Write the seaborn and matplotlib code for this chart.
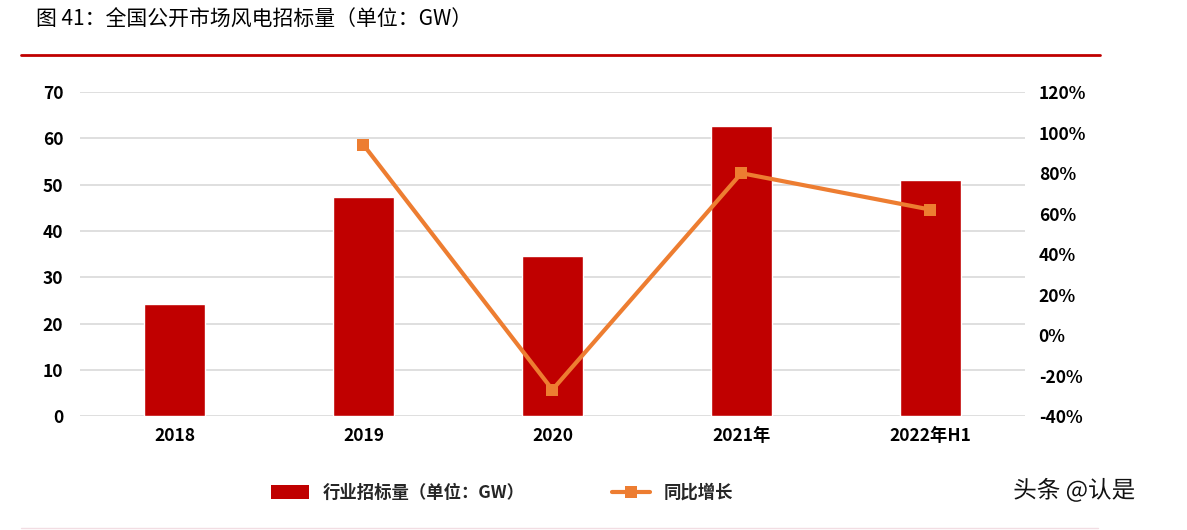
import matplotlib
matplotlib.use("Agg")
import matplotlib.pyplot as plt
import matplotlib.patheffects as pe
from matplotlib.lines import Line2D
from matplotlib.patches import Patch
from matplotlib.ticker import FuncFormatter
import seaborn as sns
import pandas as pd

# data
years = ["2018", "2019", "2020", "2021年", "2022年H1"]
bids_gw = [24.3, 47.3, 34.7, 62.7, 51.1]
yoy_pct = [None, 94, -27, 80, 62]

sns.set_theme(style="white")
plt.rcParams["font.family"] = ["Noto Sans CJK SC", "DejaVu Sans"]

df = pd.DataFrame({"year": years, "bids": bids_gw, "yoy": yoy_pct})

fig = plt.figure(figsize=(11.87, 5.3), dpi=100)
ax = fig.add_axes([0.0674, 0.215, 0.796, 0.611])

bar_red = "#C00000"
line_orange = "#ED7D31"

sns.barplot(data=df, x="year", y="bids", color=bar_red, width=0.32,
            saturation=1, ax=ax, zorder=3)
ax.set_ylim(0, 70)
ax.set_yticks(range(0, 71, 10))
ax.set_xlim(-0.5, 4.5)
ax.grid(axis="y", color="#d9d9d9", linewidth=1.2, zorder=0)
ax.set_xlabel("")
ax.set_ylabel("")
for s in ax.spines.values():
    s.set_visible(False)
ax.tick_params(axis="both", length=0, labelsize=12.5, colors="#000000")
ax.tick_params(axis="y", pad=12)
ax.tick_params(axis="x", pad=8)
for lab in ax.get_xticklabels() + ax.get_yticklabels():
    lab.set_fontweight("bold")

ax2 = ax.twinx()
line_df = df.dropna(subset=["yoy"])
sns.lineplot(x=line_df.index, y=line_df["yoy"], color=line_orange, linewidth=3,
             marker="s", markersize=8, markeredgewidth=0, ax=ax2, zorder=4)
ax2.set_ylim(-40, 120)
ax2.set_yticks(range(-40, 121, 20))
ax2.yaxis.set_major_formatter(FuncFormatter(lambda v, p: f"{int(v)}%"))
ax2.set_ylabel("")
for s in ax2.spines.values():
    s.set_visible(False)
ax2.tick_params(axis="y", length=0, labelsize=12.5, pad=10, colors="#000000")
for lab in ax2.get_yticklabels():
    lab.set_fontweight("bold")

# title and rules
fig.text(0.030, 0.962, "图 41：全国公开市场风电招标量（单位：GW）", fontsize=15,
         va="center", ha="left", color="#000000")
fig.add_artist(Line2D([0.018, 0.927], [0.897, 0.897], color="#C00000", linewidth=2))
fig.add_artist(Line2D([0.018, 0.925], [0.004, 0.004], color="#f2dde3", linewidth=1))

# legend
handles = [Patch(facecolor=bar_red, edgecolor="none"),
           Line2D([0], [0], color=line_orange, linewidth=3, marker="s",
                  markersize=8, markeredgewidth=0)]
leg = fig.legend(handles, ["行业招标量（单位：GW）", "同比增长"], loc="center",
                 bbox_to_anchor=(0.423, 0.07), ncol=2, frameon=False,
                 prop={"weight": "bold", "size": 12.5}, columnspacing=5,
                 handlelength=2.2, handleheight=0.8)

# watermark
fig.text(0.905, 0.075, "头条 @认是", fontsize=17, ha="center", va="center",
         color="#111111",
         path_effects=[pe.withStroke(linewidth=2, foreground="white")])

fig.savefig("out.png", dpi=100)
